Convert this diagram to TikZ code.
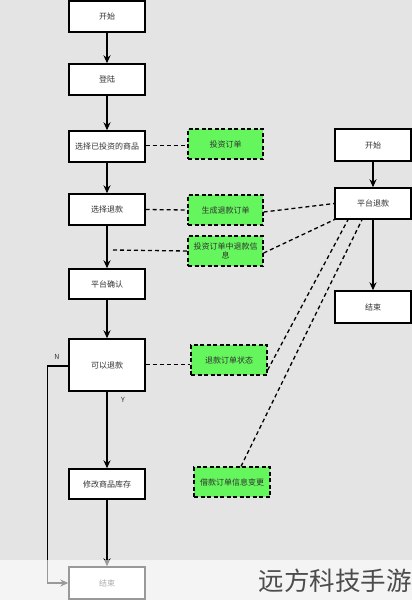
\documentclass[tikz,border=0pt]{standalone}
\usepackage{fontspec}
\setmainfont{Noto Sans CJK SC}
\usetikzlibrary{arrows.meta}
\definecolor{bg}{RGB}{228,228,228}
\definecolor{gfill}{RGB}{100,246,92}
\definecolor{txt}{RGB}{50,50,50}
\tikzset{
  procbox/.style={draw=black, fill=white, line width=1.4pt, minimum width=76pt, minimum height=31pt, inner sep=1pt, font=\fontsize{8}{10}\selectfont, text=txt},
  notebox/.style={draw=black, fill=gfill, line width=1.3pt, dash pattern=on 4pt off 2.5pt, minimum width=75pt, minimum height=30pt, inner sep=1pt, font=\fontsize{8}{9.5}\selectfont, text=txt, align=center},
  flow/.style={line width=1.4pt, -{Stealth[length=8pt,width=7pt]}},
  link/.style={line width=1.3pt, dash pattern=on 4pt off 3pt},
  lbl/.style={font=\fontsize{7}{8}\selectfont, text=txt, inner sep=0pt}
}
\begin{document}
\begin{tikzpicture}[x=1pt,y=-1pt]
\fill[bg] (0,0) rectangle (412,600);
\useasboundingbox (0,0) rectangle (412,600);
% main column
\node[procbox] (s1) at (107,16.5) {开始};
\node[procbox] (s2) at (107,79.5) {登陆};
\node[procbox] (s3) at (107,146.5) {选择已投资的商品};
\node[procbox] (s4) at (107,209.5) {选择退款};
\node[procbox, minimum height=30pt] (s5) at (107,284) {平台确认};
\node[procbox, minimum height=52pt] (s6) at (107,365) {可以退款};
\node[procbox, minimum height=30pt] (s7) at (107,484) {修改商品库存};
\node[procbox, minimum height=32pt] (s8) at (107,583) {结束};
% green notes
\node[notebox] (g1) at (225.5,144) {投资订单};
\node[notebox] (g2) at (225.5,210) {生成退款订单};
\node[notebox] (g3) at (225.5,251) {投资订单中退款信\\息};
\node[notebox, minimum width=76pt] (g4) at (229,360) {退款订单状态};
\node[notebox, minimum width=76pt] (g5) at (232,482) {借款订单信息变更};
% right column
\node[procbox, minimum height=32pt] (r1) at (373,145) {开始};
\node[procbox] (r2) at (373,203.5) {平台退款};
\node[procbox, minimum height=32pt] (r3) at (373,307) {结束};
% flow arrows
\draw[flow] (s1) -- (s2);
\draw[flow] (s2) -- (s3);
\draw[flow] (s3) -- (s4);
\draw[flow] (s4) -- (s5);
\draw[flow] (s5) -- (s6);
\draw[flow] (s6) -- (s7);
\draw[flow] (s7) -- (s8);
\draw[flow] (r1) -- (r2);
\draw[flow] (r2) -- (r3);
\draw[line width=1.3pt, -{Stealth[length=8pt,width=7pt]}] ([yshift=-1pt]s6.west) -- ++(-21,0) |- (s8.west);
\node[lbl] (ln) at (57,357) {N};
\node[lbl] (ly) at (123,400) {Y};
% dashed links
\coordinate (c1) at (113,250);
\coordinate (p1) at ([xshift=-25pt]r2.south);
\coordinate (p2) at ([xshift=-11pt]r2.south);
\coordinate (q1) at ([yshift=-10pt]g4.east);
\coordinate (q2) at ([xshift=9pt]g5.north);
\coordinate (a1) at ([yshift=1pt]s3.east);
\coordinate (a2) at ([yshift=0.5pt]s6.east);
\draw[link] (a1) -- (a1 -| g1.west);
\draw[link] (s4.east) -- (g2.west);
\draw[link] ([yshift=-2pt]g2.east) -- (r2.west);
\draw[link] (c1) -- (g3.west);
\draw[link] ([yshift=-2pt]g3.east) -- (r2.south west);
\draw[link] (a2) -- (a2 -| g4.west);
\draw[link] (q1) -- (p1);
\draw[link] (q2) -- (p2);
% watermark band
\fill[white, opacity=0.6] (0,560) rectangle (412,600);
\node[anchor=east, inner sep=0pt, text=black!70, font=\fontsize{25.5}{27}\selectfont] (wm) at (412,581) {远方科技手游};
\end{tikzpicture}
\end{document}
